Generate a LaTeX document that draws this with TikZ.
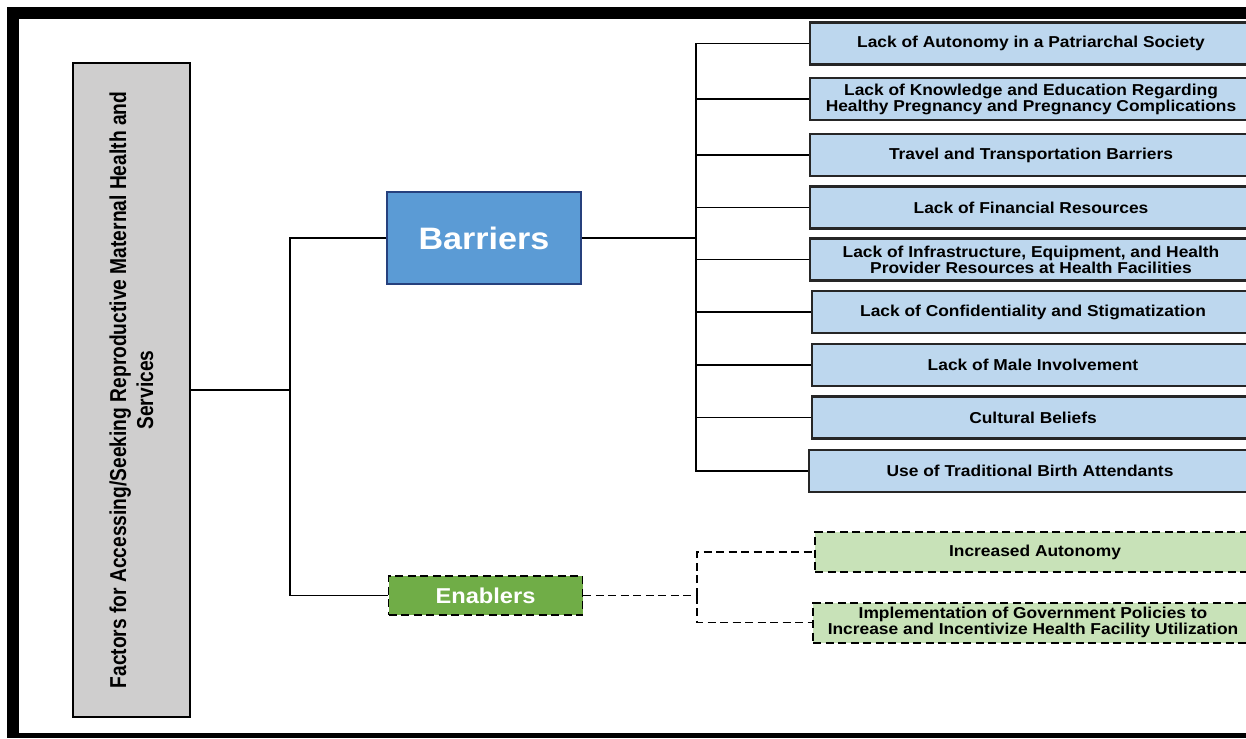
\documentclass[tikz,border=0pt]{standalone}
\usepackage{fontspec}
\setmainfont[FakeStretch=1.1]{Liberation Sans}
\newfontfamily\narrowfont[FakeStretch=0.835]{Liberation Sans}
\definecolor{boxgray}{RGB}{207,206,206}
\definecolor{barblue}{RGB}{91,155,213}
\definecolor{bardark}{RGB}{38,64,125}
\definecolor{lightblue}{RGB}{189,215,238}
\definecolor{engreen}{RGB}{112,173,71}
\definecolor{lightgreen}{RGB}{200,226,184}

\begin{document}
\begin{tikzpicture}[x=1pt, y=-1pt, line width=1.9pt,
	dashes/.style={dash pattern=on 8pt off 4.5pt},
	barrier/.style={draw=black!85, line width=2.4pt, fill=lightblue, minimum width=442pt, minimum height=42pt,
		inner sep=2pt, align=center, font=\bfseries\fontsize{15.8}{16}\selectfont},
	enabler/.style={barrier, draw=black, line width=2pt, dashes, fill=lightgreen, minimum width=440pt, minimum height=40pt},
	group/.style={minimum width=194pt, text=white, font=\bfseries\fontsize{31}{32}\selectfont},]

    \useasboundingbox (0,0) rectangle (1246,738);
    \fill[white] (0,0) rectangle (1246,738);
    \fill[black] (7,7) rectangle (1246,738);
    \fill[white] (19,19) rectangle (1246,733);
    \clip (0,0) rectangle (1246,738);

    \node[rotate=90, draw, fill=boxgray, minimum width=654pt, minimum height=117pt, align=center,
	font=\narrowfont\bfseries\fontsize{23}{27}\selectfont] (factors) at (131.5,390)
	{Factors for Accessing/Seeking Reproductive Maternal Health and\\Services};

    \node[group, fill=barblue, draw=bardark, line width=1.5pt, minimum height=92pt] (barriers) at (484,238) {Barriers};
    \node[group, fill=engreen, draw=black, dashes, minimum height=39pt, font=\bfseries\fontsize{21.5}{22}\selectfont] (enablers) at (485.5,595.5) {Enablers};

    \node[barrier] (autonomy) at (1031,43.5) {Lack of Autonomy in a Patriarchal Society};
    \node[barrier] (knowledge) at (1031,99) {Lack of Knowledge and Education Regarding\\Healthy Pregnancy and Pregnancy Complications};
    \node[barrier] (travel) at (1031,155) {Travel and Transportation Barriers};
    \node[barrier] (finance) at (1031,207.5) {Lack of Financial Resources};
    \node[barrier] (infra) at (1031,259.5) {Lack of Infrastructure, Equipment, and Health\\Provider Resources at Health Facilities};
    \node[barrier] (confid) at (1033,312) {Lack of Confidentiality and Stigmatization};
    \node[barrier] (male) at (1033,365) {Lack of Male Involvement};
    \node[barrier] (culture) at (1033,417.5) {Cultural Beliefs};
    \node[barrier] (tba) at (1030,471) {Use of Traditional Birth Attendants};

    \node[enabler] (autonomyup) at (1035,552) {Increased Autonomy};
    \node[enabler] (policies) at (1033,622.5) {Implementation of Government Policies to\\Increase and Incentivize Health Facility Utilization};

    \coordinate (rootfork) at (290,390);
    \coordinate (barfork) at (696,238);
    \coordinate (enfork) at (697,595.5);

    \draw (factors.south) -- (rootfork);
    \draw (barriers.west) -| (rootfork) |- (enablers.west);
    \draw (barriers.east) -- (barfork);
    \foreach \b in {autonomy,knowledge,travel,finance,infra,confid,male,culture,tba}
	\draw (barfork) |- (\b.west);
    \draw[dashes] (enablers.east) -- (enfork);
    \draw[dashes] (enfork) |- (autonomyup.west);
    \draw[dashes] (enfork) |- (policies.west);
\end{tikzpicture}
\end{document}
